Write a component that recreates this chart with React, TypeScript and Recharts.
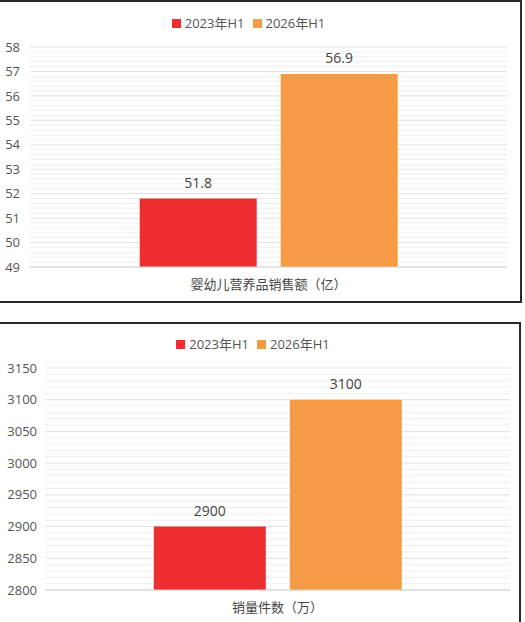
import React from "react";
import {
  BarChart,
  Bar,
  XAxis,
  YAxis,
  CartesianGrid,
  Legend,
  LabelList,
} from "recharts";

// 系列
const seriesNames = ["2023年H1", "2026年H1"];
const seriesColors = ["#ed2d30", "#f59b46"];

// 图一：销售额
const salesCategory = ["婴幼儿营养品销售额（亿）"];
const sales2023 = [51.8];
const sales2026 = [56.9];
const salesTicks = [49, 50, 51, 52, 53, 54, 55, 56, 57, 58];

// 图二：销量
const volumeCategory = ["销量件数（万）"];
const volume2023 = [2900];
const volume2026 = [3100];
const volumeTicks = [2800, 2850, 2900, 2950, 3000, 3050, 3100, 3150];

const FONT = "'Open Sans', 'Noto Sans CJK SC', sans-serif";
const SUB = 5; // minor divisions per major step

// all grid values: majors plus 4 minors between each pair
function gridTicks(ticks: number[]) {
  const out: number[] = [];
  for (let i = 0; i < ticks.length - 1; i++) {
    const step = (ticks[i + 1] - ticks[i]) / SUB;
    for (let k = 0; k < SUB; k++) out.push(+(ticks[i] + step * k).toFixed(4));
  }
  out.push(ticks[ticks.length - 1]);
  return out;
}

const LegendBox = ({ shift }: { shift: number }) => (
  <div
    style={{
      height: 37,
      boxSizing: "border-box",
      paddingTop: 5,
      paddingRight: shift,
      display: "flex",
      justifyContent: "center",
      alignItems: "flex-start",
      fontFamily: FONT,
      fontSize: 13,
      color: "#555",
    }}
  >
    {seriesNames.map((n, i) => (
      <div key={n} style={{ display: "flex", alignItems: "center", marginRight: i === 0 ? 8 : 0 }}>
        <span style={{ width: 9, height: 9, background: seriesColors[i], marginRight: 4, display: "inline-block" }} />
        <span style={{ lineHeight: "16px" }}>{n}</span>
      </div>
    ))}
  </div>
);

const GridLine = (props: any) => {
  const major = props.index % SUB === 0;
  return (
    <line
      x1={props.x1}
      y1={props.y1}
      x2={props.x2}
      y2={props.y2}
      stroke={major ? "#e2e2e2" : "#efefef"}
      strokeWidth={1}
    />
  );
};

interface PanelProps {
  top: number;
  height: number;
  category: string[];
  a: number[];
  b: number[];
  ticks: number[];
  yWidth: number;
  tickMargin: number;
  right: number;
  xHeight: number;
  gapPct: string;
  legendShift: number;
}

function PanelChart(p: PanelProps) {
  const data = p.category.map((name, i) => ({ name, a: p.a[i], b: p.b[i] }));
  const domain = [p.ticks[0], p.ticks[p.ticks.length - 1]];
  return (
    <div style={{ position: "absolute", left: 0, top: p.top }}>
      <BarChart
        width={525}
        height={p.height}
        data={data}
        margin={{ top: 10, right: p.right, left: 0, bottom: 0 }}
        barCategoryGap={p.gapPct}
        barGap={24}
      >
        <CartesianGrid vertical={false} horizontal={GridLine} />
        <Legend verticalAlign="top" content={() => <LegendBox shift={p.legendShift} />} />
        <XAxis
          dataKey="name"
          height={p.xHeight}
          axisLine={{ stroke: "#d6d6d6" }}
          tickLine={false}
          tickMargin={7}
          tick={{ fill: "#444", fontSize: 13, fontFamily: FONT }}
        />
        <YAxis
          domain={domain}
          ticks={gridTicks(p.ticks)}
          interval={0}
          width={p.yWidth}
          axisLine={false}
          tickLine={false}
          tickMargin={p.tickMargin}
          tickFormatter={(v: number) => (p.ticks.includes(v) ? String(v) : "")}
          tick={{ fill: "#555", fontSize: 13, fontFamily: FONT }}
        />
        <Bar dataKey="a" fill={seriesColors[0]} isAnimationActive={false}>
          <LabelList dataKey="a" position="top" offset={11} fill="#444" fontSize={14} fontFamily={FONT} />
        </Bar>
        <Bar dataKey="b" fill={seriesColors[1]} isAnimationActive={false}>
          <LabelList dataKey="b" position="top" offset={11} fill="#444" fontSize={14} fontFamily={FONT} />
        </Bar>
      </BarChart>
    </div>
  );
}

export default function App() {
  return (
    <div style={{ position: "absolute", left: 0, top: 0, width: 525, height: 622, overflow: "hidden", background: "#fff" }}>
      <div
        style={{
          position: "absolute",
          left: -2,
          top: 0,
          width: 524,
          height: 303,
          boxSizing: "border-box",
          border: "2px solid #2a2a2a",
        }}
      />
      <div
        style={{
          position: "absolute",
          left: -2,
          top: 322,
          width: 523,
          height: 320,
          boxSizing: "border-box",
          border: "2px solid #2a2a2a",
        }}
      />
      <PanelChart
        top={0}
        height={302}
        category={salesCategory}
        a={sales2023}
        b={sales2026}
        ticks={salesTicks}
        yWidth={30}
        tickMargin={4}
        right={18}
        xHeight={35}
        gapPct="23%"
        legendShift={10}
      />
      <PanelChart
        top={321}
        height={301}
        category={volumeCategory}
        a={volume2023}
        b={volume2026}
        ticks={volumeTicks}
        yWidth={45}
        tickMargin={2}
        right={15}
        xHeight={32}
        gapPct="23.4%"
        legendShift={4}
      />
    </div>
  );
}
